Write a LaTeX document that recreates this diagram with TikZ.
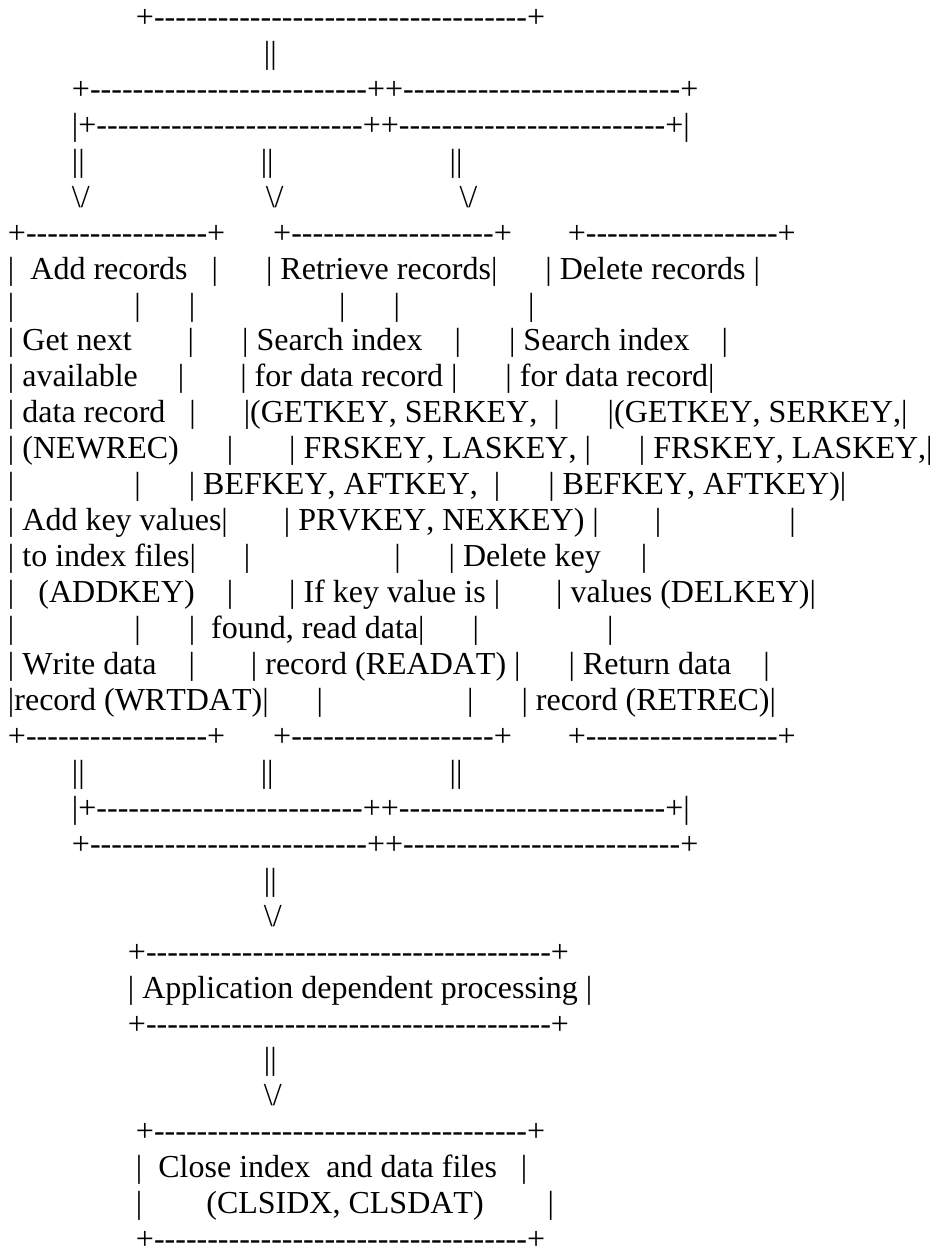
\documentclass[tikz,border=0pt]{standalone}
\usepackage{fontspec}
\newfontfamily\ascii{Liberation Serif}[Kerning=Off,Ligatures=CommonOff]
\ExplSyntaxOn
\cs_new:Npn \dsh #1 {\prg_replicate:nn{#1}{-}}
\ExplSyntaxOff
\newcommand\spc[1]{\kern#1\fontdimen2\font\relax}
\newcommand\arrowdn{\textbackslash/}
\tikzset{ln/.style={anchor=base west, inner sep=0pt, outer sep=0pt, font=\ascii\fontsize{32}{36}\selectfont}}
\begin{document}
\begin{tikzpicture}[x=1pt,y=-1pt]
\useasboundingbox (0,0) rectangle (941,1251);
\node[ln] (L1) at (8,27.4) {\spc{16}+\dsh{35}+};
\node[ln] (L2) at (8,63.35) {\spc{32}||};
\node[ln] (L3) at (8,99.3) {\spc{8}+\dsh{26}++\dsh{26}+};
\node[ln] (L4) at (8,135.25) {\spc{8}|+\dsh{25}++\dsh{25}+|};
\node[ln] (L5) at (8,171.2) {\spc{8}||\spc{22}||\spc{22}||};
\node[ln] (L6) at (8,207.15) {\spc{8}\arrowdn\spc{22}\arrowdn\spc{22}\arrowdn};
\node[ln] (L7) at (8,243.1) {+\dsh{17}+\spc{6}+\dsh{19}+\spc{7}+\dsh{18}+};
\node[ln] (L8) at (8,279.05) {|\spc{2}Add records\spc{3}|\spc{6}| Retrieve records|\spc{6}| Delete records |};
\node[ln] (L9) at (8,315) {|\spc{15}|\spc{6}|\spc{18}|\spc{6}|\spc{16}|};
\node[ln] (L10) at (8,350.95) {| Get next\spc{7}|\spc{6}| Search index\spc{4}|\spc{6}| Search index\spc{4}|};
\node[ln] (L11) at (8,386.9) {| available\spc{5}|\spc{7}| for data record |\spc{6}| for data record|};
\node[ln] (L12) at (8,422.85) {| data record\spc{3}|\spc{6}|(GETKEY, SERKEY,\spc{2}|\spc{6}|(GETKEY, SERKEY,|};
\node[ln] (L13) at (8,458.8) {| (NEWREC)\spc{6}|\spc{7}| FRSKEY, LASKEY, |\spc{6}| FRSKEY, LASKEY,|};
\node[ln] (L14) at (8,494.75) {|\spc{15}|\spc{6}| BEFKEY, AFTKEY,\spc{2}|\spc{6}| BEFKEY, AFTKEY)|};
\node[ln] (L15) at (8,530.7) {| Add key values|\spc{7}| PRVKEY, NEXKEY) |\spc{7}|\spc{16}|};
\node[ln] (L16) at (8,566.65) {| to index files|\spc{6}|\spc{18}|\spc{6}| Delete key\spc{5}|};
\node[ln] (L17) at (8,602.6) {|\spc{3}(ADDKEY)\spc{4}|\spc{7}| If key value is |\spc{7}| values (DELKEY)|};
\node[ln] (L18) at (8,638.55) {|\spc{15}|\spc{6}|\spc{2}found, read data|\spc{6}|\spc{16}|};
\node[ln] (L19) at (8,674.5) {| Write data\spc{4}|\spc{7}| record (READAT) |\spc{6}| Return data\spc{4}|};
\node[ln] (L20) at (8,710.45) {|record (WRTDAT)|\spc{6}|\spc{18}|\spc{6}| record (RETREC)|};
\node[ln] (L21) at (8,746.4) {+\dsh{17}+\spc{6}+\dsh{19}+\spc{7}+\dsh{18}+};
\node[ln] (L22) at (8,782.35) {\spc{8}||\spc{22}||\spc{22}||};
\node[ln] (L23) at (8,818.3) {\spc{8}|+\dsh{25}++\dsh{25}+|};
\node[ln] (L24) at (8,854.25) {\spc{8}+\dsh{26}++\dsh{26}+};
\node[ln] (L25) at (8,890.2) {\spc{32}||};
\node[ln] (L26) at (8,926.15) {\spc{32}\arrowdn};
\node[ln] (L27) at (8,962.1) {\spc{15}+\dsh{38}+};
\node[ln] (L28) at (8,998.05) {\spc{15}| Application dependent processing |};
\node[ln] (L29) at (8,1034) {\spc{15}+\dsh{38}+};
\node[ln] (L30) at (8,1069.95) {\spc{32}||};
\node[ln] (L31) at (8,1105.9) {\spc{32}\arrowdn};
\node[ln] (L32) at (8,1141.85) {\spc{16}+\dsh{35}+};
\node[ln] (L33) at (8,1177.8) {\spc{16}|\spc{2}Close index\spc{2}and data files\spc{3}|};
\node[ln] (L34) at (8,1213.75) {\spc{16}|\spc{8}(CLSIDX, CLSDAT)\spc{8}|};
\node[ln] (L35) at (8,1249.7) {\spc{16}+\dsh{35}+};
\end{tikzpicture}
\end{document}
